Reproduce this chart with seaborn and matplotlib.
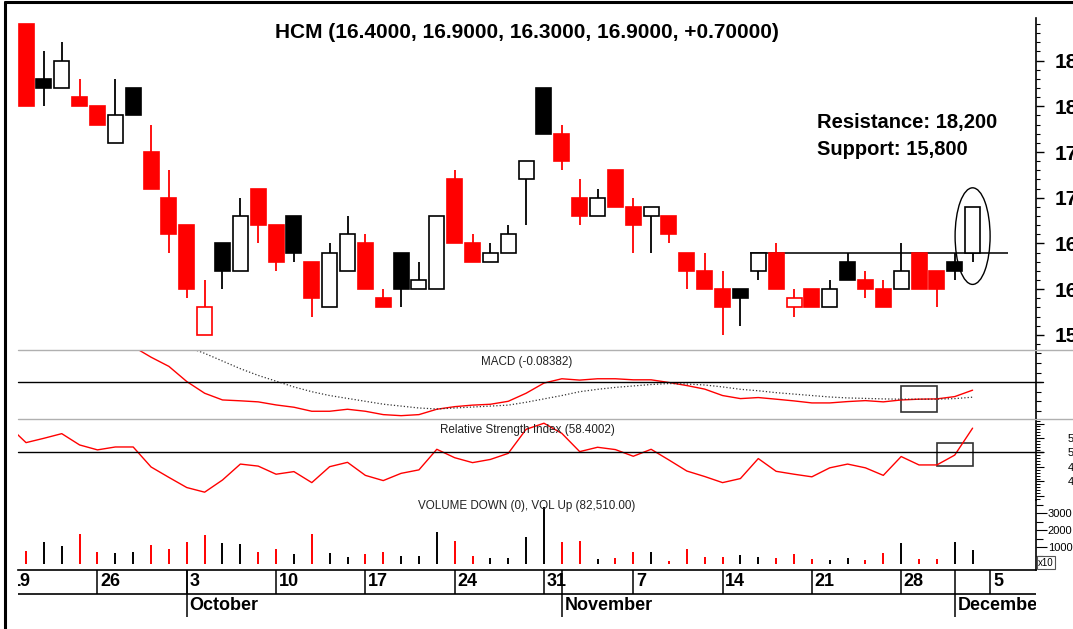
import numpy as np
import pandas as pd
import seaborn as sns
import matplotlib.pyplot as plt
from matplotlib.patches import Ellipse, Rectangle
from matplotlib.lines import Line2D

sns.set_style("white", {"axes.edgecolor": "black", "text.color": "black",
                        "xtick.color": "black", "ytick.color": "black"})
plt.rcParams['font.family'] = ['Liberation Sans', 'DejaVu Sans']

# HCM daily prices (thousand VND), 20 Sep - 2 Dec 2016
opens = [18.9, 18.3, 18.2, 18.1, 18.0, 17.6, 18.2, 17.5, 17.0, 16.7,
         15.5, 16.5, 16.2, 17.1, 16.7, 16.8, 16.3, 15.8, 16.2, 16.5,
         15.9, 16.4, 16.0, 16.0, 17.2, 16.5, 16.3, 16.4, 17.2, 18.2,
         17.7, 17.0, 16.8, 17.3, 16.9, 16.8, 16.8, 16.4, 16.2, 16.0,
         16.0, 16.2, 16.4, 15.8, 16.0, 15.8, 16.3, 16.1, 16.0, 16.0,
         16.4, 16.2, 16.3, 16.4]
highs = [18.9, 18.6, 18.7, 18.3, 18.0, 18.3, 18.2, 17.8, 17.3, 16.7,
         16.1, 16.5, 17.0, 17.1, 16.7, 16.8, 16.3, 16.5, 16.8, 16.6,
         16.0, 16.4, 16.3, 16.8, 17.3, 16.6, 16.5, 16.7, 17.4, 18.2,
         17.8, 17.2, 17.1, 17.3, 17.0, 16.9, 16.8, 16.4, 16.4, 16.2,
         16.0, 16.4, 16.5, 16.0, 16.0, 16.1, 16.4, 16.2, 16.1, 16.5,
         16.4, 16.2, 16.4, 16.9]
lows = [18.0, 18.0, 18.2, 18.0, 17.8, 17.6, 17.9, 17.1, 16.4, 15.9,
        15.5, 16.0, 16.2, 16.5, 16.2, 16.3, 15.7, 15.8, 16.2, 16.0,
        15.8, 15.8, 16.0, 16.0, 16.5, 16.3, 16.3, 16.4, 16.7, 17.7,
        17.3, 16.7, 16.8, 16.9, 16.4, 16.4, 16.5, 16.0, 16.0, 15.5,
        15.6, 16.1, 16.0, 15.7, 15.8, 15.8, 16.1, 15.9, 15.8, 16.0,
        16.0, 15.8, 16.1, 16.3]
closes = [18.0, 18.2, 18.5, 18.0, 17.8, 17.9, 17.9, 17.1, 16.6, 16.0,
          15.8, 16.2, 16.8, 16.7, 16.3, 16.4, 15.9, 16.4, 16.6, 16.0,
          15.8, 16.0, 16.1, 16.8, 16.5, 16.3, 16.4, 16.6, 17.4, 17.7,
          17.4, 16.8, 17.0, 16.9, 16.7, 16.9, 16.6, 16.2, 16.0, 15.8,
          15.9, 16.4, 16.0, 15.9, 15.8, 16.0, 16.1, 16.0, 15.8, 16.2,
          16.0, 16.0, 16.2, 16.9]
prev_close = 18.9

# volume in hundreds of shares
volume = [782, 1294, 1041, 1765, 724, 647, 724, 1100, 900, 1294,
          1706, 1235, 1159, 724, 900, 588, 1765, 665, 412, 588,
          724, 471, 471, 1882, 1353, 471, 353, 353, 1588, 3370,
          1294, 1353, 312, 353, 724, 724, 194, 865, 412, 412,
          529, 412, 353, 606, 276, 235, 353, 235, 665, 1218,
          294, 276, 1294, 825]

# indicators start one session earlier (19 Sep)
macd = [0.95, 0.90, 0.85, 0.80, 0.72, 0.63, 0.50, 0.37, 0.26, 0.164,
        0.006, -0.116, -0.186, -0.195, -0.206, -0.238, -0.262, -0.304, -0.304, -0.283,
        -0.304, -0.339, -0.35, -0.339, -0.283, -0.256, -0.24, -0.231, -0.20, -0.116,
        -0.01, 0.035, 0.021, 0.035, 0.035, 0.024, 0.024, -0.004, -0.036, -0.073,
        -0.14, -0.172, -0.161, -0.178, -0.196, -0.217, -0.217, -0.203, -0.193, -0.206,
        -0.186, -0.178, -0.175, -0.151, -0.084]
signal = [0.95, 0.92, 0.88, 0.84, 0.79, 0.74, 0.68, 0.62, 0.54, 0.46,
          0.37, 0.30, 0.22, 0.14, 0.07, 0.01, -0.05, -0.10, -0.14, -0.17,
          -0.20, -0.23, -0.25, -0.27, -0.28, -0.27, -0.26, -0.25, -0.24, -0.21,
          -0.175, -0.14, -0.10, -0.075, -0.055, -0.04, -0.025, -0.015, -0.02, -0.03,
          -0.05, -0.075, -0.09, -0.11, -0.125, -0.14, -0.155, -0.165, -0.17, -0.175,
          -0.178, -0.178, -0.178, -0.172, -0.157]
rsi = [59.3, 53.4, 54.9, 56.5, 52.6, 50.9, 51.9, 51.9, 45.0, 41.4,
       37.9, 36.3, 40.5, 46.0, 45.3, 42.5, 43.4, 39.6, 45.1, 46.6,
       42.1, 40.3, 42.8, 44.0, 51.1, 48.2, 46.5, 47.6, 49.7, 58.0,
       60.1, 56.6, 50.3, 51.8, 51.0, 48.7, 51.1, 47.4, 43.6, 41.7,
       39.6, 41.0, 47.9, 43.5, 42.5, 41.6, 44.7, 46.0, 44.7, 42.1,
       48.6, 45.7, 45.7, 49.1, 58.4]

title = "HCM (16.4000, 16.9000, 16.3000, 16.9000, +0.70000)"
macd_label = "MACD (-0.08382)"
rsi_label = "Relative Strength Index (58.4002)"
vol_label = "VOLUME DOWN (0), VOL Up (82,510.00)"
notes = ["Resistance: 18,200", "Support: 15,800"]
support_level = 16.4
price_ticks = [15.5, 16.0, 16.5, 17.0, 17.5, 18.0, 18.5]
rsi_ticks = [35, 40, 45, 50, 55, 60]
rsi_labels = ["", "40", "45", "50", "55", ""]
vol_ticks = [1000, 2000, 3000]

calendar = pd.bdate_range("2016-09-19", "2016-12-05")
pos = np.arange(len(calendar))
candle_pos = pos[1:1 + len(opens)]
ind_pos = pos[:len(rsi)]

RED, BLACK = "#ff0000", "#000000"
colors = []
last, col = prev_close, RED
for c in closes:
    if c > last:
        col = BLACK
    elif c < last:
        col = RED
    colors.append(col)
    last = c

W, H = 1073, 629
fig = plt.figure(figsize=(W / 100, H / 100), dpi=100)


def box(top, bottom, left=18, right=1036):
    return [left / W, 1 - bottom / H, (right - left) / W, (bottom - top) / H]


ax = fig.add_axes(box(18.3, 350))
ax_macd = fig.add_axes(box(350, 418.7))
ax_rsi = fig.add_axes(box(418.7, 500))
ax_vol = fig.add_axes(box(500, 570))
ax_date = fig.add_axes(box(570, 618))
xlim = (0.55, 57.55)

for a in (ax, ax_macd, ax_rsi, ax_vol):
    a.set_xlim(xlim)
    a.set_xticks([])
    a.set_facecolor("none")
    for s in ("left", "top", "bottom"):
        a.spines[s].set_visible(False)
    a.spines["right"].set_linewidth(1.2)
    a.yaxis.tick_right()

# candles
o, h, l, c = map(np.array, (opens, highs, lows, closes))
faces = [cl if f else "white" for cl, f in zip(colors, c < o)]
ax.vlines(candle_pos, l, h, colors=colors, lw=1.3, zorder=1)
ax.bar(candle_pos, np.abs(c - o), bottom=np.minimum(o, c), width=0.84,
       color=faces, edgecolor=colors, linewidth=1.2, zorder=2)
ax.hlines(support_level, 41.54, 56.0, color="#222222", lw=1.3, zorder=0.5)
ax.add_patch(Ellipse((54, 16.58), 1.96, 1.057, fill=False, ec="black", lw=1))
ax.set_ylim(15.334, 18.963)
ax.set_yticks(price_ticks)
ax.set_yticks(np.arange(15.4, 18.95, 0.1), minor=True)
ax.set_yticklabels([f"{v:.1f}" for v in price_ticks], fontsize=15, fontweight="bold")
ax.tick_params(axis="y", which="major", length=5.5, width=1, pad=8)
ax.tick_params(axis="y", which="minor", length=2.7, width=0.8)
ax.text(0.5, 0.956, title, transform=ax.transAxes, ha="center", va="center",
        fontsize=15, fontweight="bold")
ax.text(45.3, 17.82, notes[0], fontsize=14.5, fontweight="bold", va="center")
ax.text(45.3, 17.53, notes[1], fontsize=14.5, fontweight="bold", va="center")

# MACD
sns.lineplot(x=ind_pos, y=macd, ax=ax_macd, color=RED, lw=1, legend=False)
sns.lineplot(x=ind_pos, y=signal, ax=ax_macd, color="#333333", lw=0.9,
             linestyle=":", legend=False)
ax_macd.plot([xlim[0], 57.95], [0, 0], color="black", lw=1, clip_on=False)
ax_macd.add_patch(Rectangle((50, -0.315), 2, 0.273, fill=False, ec="#333333", lw=1.2))
ax_macd.set_ylim(-0.3816, 0.335)
ax_macd.set_yticks(np.arange(-0.3, 0.31, 0.1))
ax_macd.set_yticklabels([])
ax_macd.tick_params(axis="y", length=3.5, width=0.8)
ax_macd.text(0.5, 0.83, macd_label, transform=ax_macd.transAxes, ha="center",
             va="center", fontsize=8.4, color="#222222")

# RSI
sns.lineplot(x=ind_pos, y=rsi, ax=ax_rsi, color=RED, lw=1, legend=False)
ax_rsi.plot([xlim[0], 57.95], [50, 50], color="black", lw=1, clip_on=False)
ax_rsi.add_patch(Rectangle((52, 45.3), 2, 8.1, fill=False, ec="#333333", lw=1.2))
ax_rsi.set_ylim(33.6, 61.66)
ax_rsi.set_yticks(rsi_ticks)
ax_rsi.set_yticklabels(rsi_labels, fontsize=8)
ax_rsi.set_yticks(np.arange(34, 62, 1), minor=True)
ax_rsi.tick_params(axis="y", which="major", length=5.5, width=0.8, pad=17.5)
ax_rsi.tick_params(axis="y", which="minor", length=3, width=0.7)
ax_rsi.text(0.5, 0.861, rsi_label, transform=ax_rsi.transAxes, ha="center",
            va="center", fontsize=8.4, color="#222222")

# volume
ax_vol.vlines(candle_pos, 0, volume, colors=colors, lw=1.4)
ax_vol.set_ylim(-353, 3765)
ax_vol.set_yticks(vol_ticks)
ax_vol.set_yticklabels([str(v) for v in vol_ticks], fontsize=8)
ax_vol.set_yticks([500, 1500, 2500, 3500], minor=True)
ax_vol.tick_params(axis="y", which="major", length=8, width=0.8, pad=0.5)
ax_vol.tick_params(axis="y", which="minor", length=5, width=0.8)
ax_vol.spines["bottom"].set_visible(True)
ax_vol.spines["bottom"].set_linewidth(1.2)
ax_vol.text(0.5, 0.919, vol_label, transform=ax_vol.transAxes, ha="center",
            va="center", fontsize=8.4, color="#222222")

# date strip
ax_date.set_xlim(xlim)
ax_date.set_ylim(0, 1)
ax_date.axis("off")
ax_date.axhline(0.5, color="black", lw=1.2)
for k, d in enumerate(calendar):
    if d.weekday() == 0:
        ax_date.vlines(k, 0.5, 1, color="black", lw=1.1)
        ax_date.text(k + 0.15, 0.75, str(d.day), fontsize=13, fontweight="bold",
                     va="center", ha="left", clip_on=True)
    if k > 0 and d.month != calendar[k - 1].month:
        ax_date.vlines(k, 0.021, 1, color="black", lw=1.1)
        ax_date.text(k + 0.15, 0.26, d.strftime("%B"), fontsize=13,
                     fontweight="bold", va="center", ha="left", clip_on=True)

# panel separators and frame
for y in (350, 418.7):
    fig.add_artist(Line2D([18 / W, 1], [1 - y / H] * 2, color="#b0b0b0", lw=1))
fig.add_artist(Line2D([5 / W, 5 / W], [0, 1 - 2 / H], color="black", lw=2.2))
fig.add_artist(Line2D([5 / W, 1], [1 - 2 / H] * 2, color="black", lw=2.2))
fig.text(1046 / W, 1 - 562.5 / H, "x10", fontsize=7, ha="center", va="center",
         bbox=dict(boxstyle="square,pad=0.15", fc="white", ec="#555555", lw=0.8))

fig.savefig("out.png", dpi=100)
